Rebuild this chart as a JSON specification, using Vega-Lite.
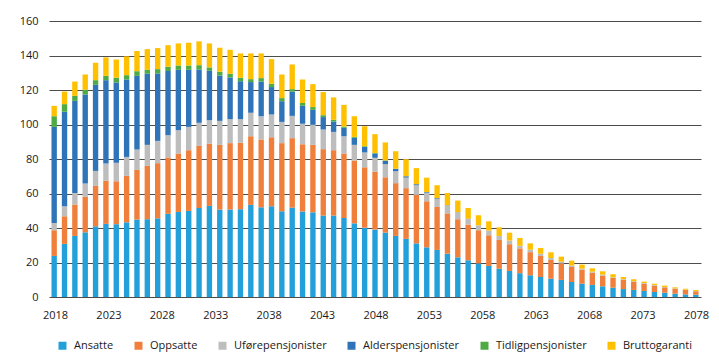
{
  "$schema": "https://vega.github.io/schema/vega-lite/v6.json",
  "width": 652,
  "height": 276,
  "autosize": {"type": "none"},
  "padding": {"left": 49, "top": 21, "right": 18, "bottom": 65},
  "background": "white",
  "config": {
    "view": {"stroke": null},
    "font": "Open Sans",
    "axis": {"labelFont": "Open Sans", "labelFontSize": 11, "labelColor": "#1a1a1a"},
    "legend": {"labelFont": "Open Sans", "labelFontSize": 11, "labelColor": "#1a1a1a"}
  },
  "data": {
    "values": [
      {"year": 2018, "Ansatte": 23.8, "Oppsatte": 14.9, "Uførepensjonister": 4.2, "Alderspensjonister": 55.7, "Tidligpensjonister": 6.2, "Bruttogaranti": 6.0},
      {"year": 2019, "Ansatte": 30.8, "Oppsatte": 16.0, "Uførepensjonister": 5.8, "Alderspensjonister": 54.8, "Tidligpensjonister": 4.4, "Bruttogaranti": 7.3},
      {"year": 2020, "Ansatte": 35.4, "Oppsatte": 18.2, "Uførepensjonister": 6.7, "Alderspensjonister": 53.4, "Tidligpensjonister": 2.9, "Bruttogaranti": 8.3},
      {"year": 2021, "Ansatte": 37.5, "Oppsatte": 20.7, "Uførepensjonister": 7.6, "Alderspensjonister": 51.6, "Tidligpensjonister": 2.7, "Bruttogaranti": 8.9},
      {"year": 2022, "Ansatte": 41.0, "Oppsatte": 23.4, "Uførepensjonister": 8.7, "Alderspensjonister": 49.9, "Tidligpensjonister": 2.7, "Bruttogaranti": 10.1},
      {"year": 2023, "Ansatte": 42.4, "Oppsatte": 25.1, "Uførepensjonister": 9.9, "Alderspensjonister": 48.3, "Tidligpensjonister": 2.5, "Bruttogaranti": 10.7},
      {"year": 2024, "Ansatte": 42.2, "Oppsatte": 24.9, "Uførepensjonister": 10.7, "Alderspensjonister": 46.6, "Tidligpensjonister": 2.7, "Bruttogaranti": 10.6},
      {"year": 2025, "Ansatte": 43.3, "Oppsatte": 26.9, "Uførepensjonister": 11.0, "Alderspensjonister": 44.9, "Tidligpensjonister": 2.5, "Bruttogaranti": 10.9},
      {"year": 2026, "Ansatte": 44.9, "Oppsatte": 28.8, "Uførepensjonister": 11.8, "Alderspensjonister": 42.7, "Tidligpensjonister": 2.7, "Bruttogaranti": 11.7},
      {"year": 2027, "Ansatte": 45.1, "Oppsatte": 30.9, "Uførepensjonister": 12.2, "Alderspensjonister": 41.2, "Tidligpensjonister": 2.3, "Bruttogaranti": 12.0},
      {"year": 2028, "Ansatte": 45.6, "Oppsatte": 32.0, "Uførepensjonister": 12.9, "Alderspensjonister": 39.1, "Tidligpensjonister": 2.5, "Bruttogaranti": 12.2},
      {"year": 2029, "Ansatte": 48.2, "Oppsatte": 32.7, "Uførepensjonister": 12.9, "Alderspensjonister": 37.2, "Tidligpensjonister": 2.5, "Bruttogaranti": 12.5},
      {"year": 2030, "Ansatte": 49.3, "Oppsatte": 33.9, "Uførepensjonister": 13.5, "Alderspensjonister": 35.0, "Tidligpensjonister": 2.5, "Bruttogaranti": 12.8},
      {"year": 2031, "Ansatte": 49.9, "Oppsatte": 35.2, "Uførepensjonister": 13.5, "Alderspensjonister": 33.1, "Tidligpensjonister": 2.5, "Bruttogaranti": 13.2},
      {"year": 2032, "Ansatte": 51.6, "Oppsatte": 36.0, "Uførepensjonister": 13.4, "Alderspensjonister": 30.9, "Tidligpensjonister": 2.5, "Bruttogaranti": 13.8},
      {"year": 2033, "Ansatte": 52.8, "Oppsatte": 36.1, "Uførepensjonister": 13.6, "Alderspensjonister": 28.6, "Tidligpensjonister": 2.0, "Bruttogaranti": 13.9},
      {"year": 2034, "Ansatte": 50.7, "Oppsatte": 37.5, "Uførepensjonister": 13.9, "Alderspensjonister": 26.3, "Tidligpensjonister": 2.2, "Bruttogaranti": 13.9},
      {"year": 2035, "Ansatte": 50.7, "Oppsatte": 38.5, "Uførepensjonister": 13.9, "Alderspensjonister": 24.2, "Tidligpensjonister": 2.1, "Bruttogaranti": 13.9},
      {"year": 2036, "Ansatte": 50.9, "Oppsatte": 38.5, "Uførepensjonister": 13.7, "Alderspensjonister": 22.0, "Tidligpensjonister": 2.0, "Bruttogaranti": 14.1},
      {"year": 2037, "Ansatte": 53.4, "Oppsatte": 39.8, "Uførepensjonister": 13.6, "Alderspensjonister": 17.8, "Tidligpensjonister": 1.7, "Bruttogaranti": 14.9},
      {"year": 2038, "Ansatte": 52.0, "Oppsatte": 39.3, "Uførepensjonister": 13.5, "Alderspensjonister": 20.1, "Tidligpensjonister": 2.0, "Bruttogaranti": 14.3},
      {"year": 2039, "Ansatte": 52.6, "Oppsatte": 40.0, "Uførepensjonister": 13.2, "Alderspensjonister": 15.9, "Tidligpensjonister": 1.9, "Bruttogaranti": 14.3},
      {"year": 2040, "Ansatte": 49.7, "Oppsatte": 39.5, "Uførepensjonister": 12.3, "Alderspensjonister": 12.0, "Tidligpensjonister": 1.8, "Bruttogaranti": 13.7},
      {"year": 2041, "Ansatte": 51.8, "Oppsatte": 40.3, "Uførepensjonister": 12.9, "Alderspensjonister": 14.0, "Tidligpensjonister": 1.5, "Bruttogaranti": 14.3},
      {"year": 2042, "Ansatte": 49.5, "Oppsatte": 39.1, "Uførepensjonister": 11.8, "Alderspensjonister": 10.4, "Tidligpensjonister": 1.6, "Bruttogaranti": 13.7},
      {"year": 2043, "Ansatte": 49.1, "Oppsatte": 39.1, "Uførepensjonister": 11.6, "Alderspensjonister": 8.7, "Tidligpensjonister": 1.6, "Bruttogaranti": 13.3},
      {"year": 2044, "Ansatte": 47.2, "Oppsatte": 38.5, "Uførepensjonister": 11.4, "Alderspensjonister": 7.2, "Tidligpensjonister": 1.1, "Bruttogaranti": 13.4},
      {"year": 2045, "Ansatte": 47.2, "Oppsatte": 37.9, "Uførepensjonister": 10.6, "Alderspensjonister": 6.0, "Tidligpensjonister": 1.0, "Bruttogaranti": 13.0},
      {"year": 2046, "Ansatte": 45.8, "Oppsatte": 37.4, "Uførepensjonister": 10.0, "Alderspensjonister": 4.9, "Tidligpensjonister": 0.7, "Bruttogaranti": 12.6},
      {"year": 2047, "Ansatte": 42.7, "Oppsatte": 36.4, "Uførepensjonister": 9.1, "Alderspensjonister": 4.1, "Tidligpensjonister": 0.5, "Bruttogaranti": 12.0},
      {"year": 2048, "Ansatte": 40.2, "Oppsatte": 35.0, "Uførepensjonister": 8.6, "Alderspensjonister": 3.2, "Tidligpensjonister": 0.4, "Bruttogaranti": 11.6},
      {"year": 2049, "Ansatte": 39.1, "Oppsatte": 33.6, "Uførepensjonister": 8.0, "Alderspensjonister": 2.5, "Tidligpensjonister": 0.3, "Bruttogaranti": 10.9},
      {"year": 2050, "Ansatte": 37.3, "Oppsatte": 32.1, "Uførepensjonister": 7.6, "Alderspensjonister": 1.9, "Tidligpensjonister": 0.3, "Bruttogaranti": 10.4},
      {"year": 2051, "Ansatte": 35.4, "Oppsatte": 30.6, "Uførepensjonister": 6.9, "Alderspensjonister": 1.4, "Tidligpensjonister": 0.1, "Bruttogaranti": 10.1},
      {"year": 2052, "Ansatte": 33.7, "Oppsatte": 29.4, "Uførepensjonister": 6.1, "Alderspensjonister": 0.8, "Tidligpensjonister": 0.0, "Bruttogaranti": 9.9},
      {"year": 2053, "Ansatte": 31.1, "Oppsatte": 28.1, "Uførepensjonister": 5.6, "Alderspensjonister": 0.6, "Tidligpensjonister": 0.0, "Bruttogaranti": 9.3},
      {"year": 2054, "Ansatte": 28.8, "Oppsatte": 26.7, "Uførepensjonister": 5.0, "Alderspensjonister": 0.4, "Tidligpensjonister": 0.0, "Bruttogaranti": 8.3},
      {"year": 2055, "Ansatte": 27.3, "Oppsatte": 24.9, "Uførepensjonister": 4.7, "Alderspensjonister": 0.4, "Tidligpensjonister": 0.0, "Bruttogaranti": 7.5},
      {"year": 2056, "Ansatte": 25.1, "Oppsatte": 23.4, "Uførepensjonister": 4.5, "Alderspensjonister": 0.2, "Tidligpensjonister": 0.0, "Bruttogaranti": 7.1},
      {"year": 2057, "Ansatte": 23.0, "Oppsatte": 22.1, "Uførepensjonister": 4.0, "Alderspensjonister": 0.1, "Tidligpensjonister": 0.0, "Bruttogaranti": 6.7},
      {"year": 2058, "Ansatte": 21.3, "Oppsatte": 20.7, "Uførepensjonister": 3.3, "Alderspensjonister": 0.1, "Tidligpensjonister": 0.0, "Bruttogaranti": 6.2},
      {"year": 2059, "Ansatte": 19.5, "Oppsatte": 19.2, "Uførepensjonister": 2.9, "Alderspensjonister": 0.0, "Tidligpensjonister": 0.0, "Bruttogaranti": 5.8},
      {"year": 2060, "Ansatte": 18.0, "Oppsatte": 17.8, "Uførepensjonister": 2.7, "Alderspensjonister": 0.0, "Tidligpensjonister": 0.0, "Bruttogaranti": 5.4},
      {"year": 2061, "Ansatte": 16.4, "Oppsatte": 16.7, "Uførepensjonister": 2.3, "Alderspensjonister": 0.0, "Tidligpensjonister": 0.0, "Bruttogaranti": 5.0},
      {"year": 2062, "Ansatte": 15.1, "Oppsatte": 15.5, "Uførepensjonister": 2.1, "Alderspensjonister": 0.0, "Tidligpensjonister": 0.0, "Bruttogaranti": 4.6},
      {"year": 2063, "Ansatte": 13.8, "Oppsatte": 14.4, "Uførepensjonister": 1.5, "Alderspensjonister": 0.0, "Tidligpensjonister": 0.0, "Bruttogaranti": 4.5},
      {"year": 2064, "Ansatte": 12.6, "Oppsatte": 13.4, "Uførepensjonister": 1.4, "Alderspensjonister": 0.0, "Tidligpensjonister": 0.0, "Bruttogaranti": 3.7},
      {"year": 2065, "Ansatte": 11.6, "Oppsatte": 12.2, "Uførepensjonister": 1.3, "Alderspensjonister": 0.0, "Tidligpensjonister": 0.0, "Bruttogaranti": 3.3},
      {"year": 2066, "Ansatte": 10.6, "Oppsatte": 10.9, "Uførepensjonister": 1.1, "Alderspensjonister": 0.0, "Tidligpensjonister": 0.0, "Bruttogaranti": 3.3},
      {"year": 2067, "Ansatte": 9.9, "Oppsatte": 9.6, "Uførepensjonister": 1.0, "Alderspensjonister": 0.0, "Tidligpensjonister": 0.0, "Bruttogaranti": 2.9},
      {"year": 2068, "Ansatte": 8.7, "Oppsatte": 8.7, "Uførepensjonister": 0.8, "Alderspensjonister": 0.0, "Tidligpensjonister": 0.0, "Bruttogaranti": 2.9},
      {"year": 2069, "Ansatte": 7.7, "Oppsatte": 8.2, "Uførepensjonister": 0.5, "Alderspensjonister": 0.0, "Tidligpensjonister": 0.0, "Bruttogaranti": 2.4},
      {"year": 2070, "Ansatte": 7.0, "Oppsatte": 7.1, "Uførepensjonister": 0.6, "Alderspensjonister": 0.0, "Tidligpensjonister": 0.0, "Bruttogaranti": 1.9},
      {"year": 2071, "Ansatte": 6.2, "Oppsatte": 6.2, "Uførepensjonister": 0.6, "Alderspensjonister": 0.0, "Tidligpensjonister": 0.0, "Bruttogaranti": 1.9},
      {"year": 2072, "Ansatte": 5.4, "Oppsatte": 5.6, "Uførepensjonister": 0.4, "Alderspensjonister": 0.0, "Tidligpensjonister": 0.0, "Bruttogaranti": 1.8},
      {"year": 2073, "Ansatte": 4.6, "Oppsatte": 5.3, "Uførepensjonister": 0.4, "Alderspensjonister": 0.0, "Tidligpensjonister": 0.0, "Bruttogaranti": 1.3},
      {"year": 2074, "Ansatte": 4.1, "Oppsatte": 4.6, "Uførepensjonister": 0.4, "Alderspensjonister": 0.0, "Tidligpensjonister": 0.0, "Bruttogaranti": 1.2},
      {"year": 2075, "Ansatte": 3.5, "Oppsatte": 4.2, "Uførepensjonister": 0.4, "Alderspensjonister": 0.0, "Tidligpensjonister": 0.0, "Bruttogaranti": 0.8},
      {"year": 2076, "Ansatte": 2.9, "Oppsatte": 3.7, "Uførepensjonister": 0.4, "Alderspensjonister": 0.0, "Tidligpensjonister": 0.0, "Bruttogaranti": 0.7},
      {"year": 2077, "Ansatte": 2.5, "Oppsatte": 3.1, "Uførepensjonister": 0.2, "Alderspensjonister": 0.0, "Tidligpensjonister": 0.0, "Bruttogaranti": 0.8},
      {"year": 2078, "Ansatte": 1.9, "Oppsatte": 2.9, "Uførepensjonister": 0.2, "Alderspensjonister": 0.0, "Tidligpensjonister": 0.0, "Bruttogaranti": 0.6},
      {"year": 2079, "Ansatte": 1.5, "Oppsatte": 2.6, "Uførepensjonister": 0.2, "Alderspensjonister": 0.0, "Tidligpensjonister": 0.0, "Bruttogaranti": 0.5},
      {"year": 2080, "Ansatte": 1.3, "Oppsatte": 2.0, "Uførepensjonister": 0.2, "Alderspensjonister": 0.0, "Tidligpensjonister": 0.0, "Bruttogaranti": 0.6}
    ]
  },
  "transform": [
    {"fold": ["Ansatte", "Oppsatte", "Uførepensjonister", "Alderspensjonister", "Tidligpensjonister", "Bruttogaranti"], "as": ["kategori", "verdi"]},
    {"window": [{"op": "row_number", "as": "rekke"}], "groupby": ["year"]}
  ],
  "layer": [
    {
      "mark": {"type": "bar"},
      "encoding": {
        "x": {"field": "year", "type": "ordinal", "scale": {"paddingInner": 0.48, "paddingOuter": 0.24}, "axis": null},
        "y": {
          "field": "verdi", "type": "quantitative", "stack": "zero",
          "scale": {"domain": [0, 160], "nice": false},
          "axis": {"values": [0, 20, 40, 60, 80, 100, 120, 140, 160], "title": null, "grid": true, "gridColor": "#4d4d4d", "gridWidth": 1, "domain": false, "ticks": false, "tickSize": 0, "labelPadding": 11}
        },
        "color": {
          "field": "kategori", "type": "nominal",
          "scale": {
            "domain": ["Ansatte", "Oppsatte", "Uførepensjonister", "Alderspensjonister", "Tidligpensjonister", "Bruttogaranti"],
            "range": ["#23a0da", "#f07f3c", "#bdbdbd", "#2f74b8", "#4daa45", "#ffc000"]
          },
          "legend": {"orient": "none", "legendX": 8, "legendY": 319, "direction": "horizontal", "columns": 6, "title": null, "symbolType": "square", "symbolSize": 64, "symbolStrokeWidth": 0, "labelOffset": 6, "columnPadding": 19}
        },
        "order": {"field": "rekke", "type": "quantitative"}
      }
    },
    {
      "transform": [{"filter": "datum.year <= 2078"}],
      "mark": {"type": "tick", "opacity": 0},
      "encoding": {
        "x": {
          "field": "year", "type": "quantitative",
          "scale": {"domain": [2017.438, 2078.47], "nice": false, "zero": false},
          "axis": {"values": [2018, 2023, 2028, 2033, 2038, 2043, 2048, 2053, 2058, 2063, 2068, 2073, 2078], "format": "d", "title": null, "grid": false, "ticks": false, "tickSize": 0, "domain": false, "labelPadding": 12}
        }
      }
    }
  ],
  "resolve": {"scale": {"x": "independent"}, "axis": {"x": "independent"}}
}
